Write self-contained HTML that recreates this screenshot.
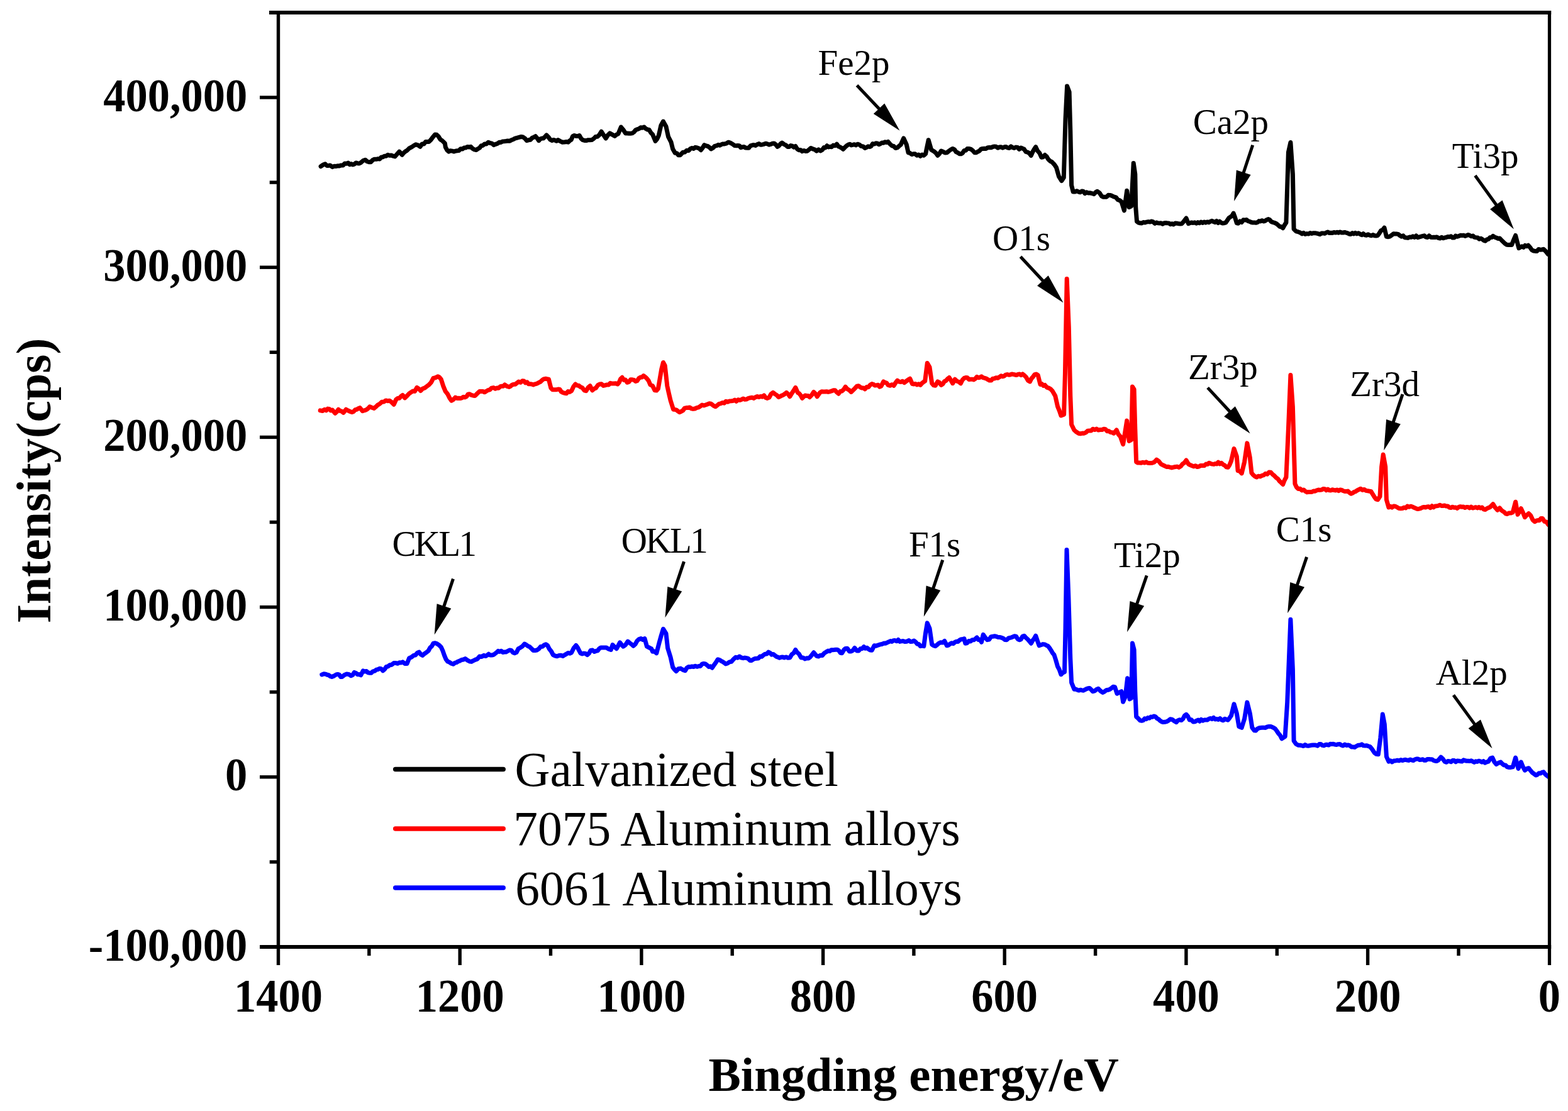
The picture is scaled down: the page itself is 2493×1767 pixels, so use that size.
<!DOCTYPE html>
<html><head><meta charset="utf-8"><title>XPS survey spectra</title>
<style>html,body{margin:0;padding:0;background:#fff;} svg{display:block;}</style>
</head><body>
<svg width="2493" height="1767" viewBox="0 0 2493 1767">
<rect width="2493" height="1767" fill="#fff"/>
<path d="M510.1,264.7 L514.4,261.7 L517.0,260.8 L519.6,263.4 L522.3,263.4 L524.9,262.9 L528.4,265.6 L531.2,264.3 L534.0,264.5 L536.8,263.8 L539.6,263.9 L542.4,262.9 L545.3,263.0 L548.2,259.9 L551.1,260.3 L553.5,259.0 L556.0,261.7 L558.4,260.6 L560.9,261.9 L563.3,261.2 L565.9,259.0 L568.5,259.7 L571.2,260.0 L573.8,258.6 L577.3,255.5 L580.8,254.2 L583.7,256.8 L586.6,257.8 L589.5,257.7 L592.4,254.7 L595.4,253.2 L598.3,253.3 L600.9,252.6 L603.5,253.0 L606.1,250.3 L608.7,249.8 L611.3,248.2 L614.0,248.3 L616.6,246.3 L619.2,247.2 L622.1,246.9 L625.0,248.2 L627.9,249.0 L631.4,245.0 L634.9,241.1 L639.3,246.3 L641.9,243.1 L644.5,240.8 L647.1,239.4 L650.6,235.9 L654.1,234.1 L657.6,231.8 L661.1,229.8 L664.6,230.9 L668.1,233.3 L671.0,229.1 L673.9,229.1 L676.8,225.4 L679.5,225.6 L682.1,225.4 L684.7,222.8 L687.3,219.3 L691.7,214.0 L694.3,214.3 L696.9,216.7 L700.0,221.7 L703.0,223.6 L707.4,228.0 L708.3,234.1 L710.9,238.8 L713.5,241.1 L716.1,239.7 L718.8,240.1 L721.4,241.1 L724.0,240.2 L726.8,239.8 L729.6,239.5 L732.3,236.8 L735.1,237.1 L737.9,235.0 L740.5,235.1 L743.1,233.5 L745.8,234.0 L748.4,233.3 L751.3,236.3 L754.2,237.9 L757.1,238.5 L759.7,236.8 L762.4,235.3 L765.0,231.8 L767.6,231.5 L770.5,228.9 L773.4,229.0 L776.3,226.3 L779.2,227.5 L782.2,228.1 L785.1,230.6 L788.0,229.3 L790.9,228.4 L793.8,226.3 L796.4,226.4 L799.0,225.0 L801.7,224.8 L804.3,224.5 L807.2,224.0 L810.1,224.3 L813.0,222.8 L815.9,221.7 L818.8,220.1 L821.7,219.3 L825.2,218.4 L828.7,217.5 L831.6,218.0 L834.5,220.1 L837.4,223.6 L840.3,222.8 L843.3,222.3 L846.2,219.3 L848.8,218.3 L851.4,216.7 L854.0,219.8 L856.7,223.6 L859.1,220.8 L861.6,220.1 L864.0,219.9 L866.5,217.5 L868.9,214.9 L871.8,217.9 L874.7,221.9 L877.6,223.6 L880.0,222.5 L882.4,223.1 L884.8,224.3 L887.2,222.6 L890.8,224.6 L894.3,226.2 L897.3,226.1 L900.3,225.5 L903.3,226.2 L905.8,223.7 L908.2,222.3 L910.6,216.6 L913.1,215.5 L915.8,216.4 L918.5,216.5 L921.2,215.5 L923.9,220.3 L926.5,222.6 L929.4,223.4 L932.2,223.6 L935.1,222.7 L937.9,222.8 L940.8,222.6 L943.8,220.6 L946.8,217.6 L949.8,217.3 L953.0,214.4 L956.1,209.2 L959.7,214.8 L963.2,220.0 L966.4,215.0 L969.5,211.9 L972.2,213.4 L974.8,214.9 L977.5,216.4 L980.2,214.1 L982.9,212.8 L987.4,202.1 L991.0,206.5 L994.5,211.9 L997.2,212.0 L999.9,212.3 L1002.6,212.3 L1005.3,211.9 L1008.0,210.0 L1010.6,206.8 L1013.3,205.6 L1016.0,204.7 L1018.7,202.8 L1021.4,203.2 L1024.1,202.1 L1026.8,204.7 L1029.4,206.0 L1032.1,206.5 L1034.8,211.1 L1037.5,213.7 L1042.0,224.4 L1044.7,221.0 L1047.3,215.5 L1050.9,199.4 L1054.5,193.1 L1059.0,201.2 L1062.5,217.3 L1067.0,226.2 L1069.7,237.0 L1073.3,243.2 L1076.0,243.6 L1078.6,246.7 L1081.3,246.8 L1085.8,242.3 L1088.8,242.0 L1091.8,239.2 L1094.8,239.6 L1097.5,236.7 L1100.2,235.4 L1102.8,236.4 L1105.5,234.3 L1108.5,235.0 L1111.4,236.0 L1114.4,238.7 L1117.1,235.1 L1119.8,230.7 L1122.5,231.8 L1125.2,232.5 L1127.9,234.3 L1130.6,237.0 L1133.6,235.3 L1136.5,232.3 L1139.5,231.6 L1142.0,230.3 L1144.5,231.2 L1147.0,229.8 L1149.5,228.9 L1152.0,228.9 L1155.0,228.2 L1158.0,226.2 L1161.0,227.1 L1164.5,229.0 L1168.1,231.6 L1170.6,231.8 L1173.0,231.5 L1175.5,231.7 L1177.9,234.7 L1180.4,233.9 L1182.9,233.4 L1185.3,235.1 L1187.8,235.2 L1190.5,235.3 L1193.2,231.9 L1195.8,231.0 L1198.5,230.5 L1201.2,231.4 L1203.9,229.8 L1206.6,228.6 L1209.3,230.2 L1212.0,229.9 L1214.6,229.3 L1217.3,228.2 L1220.0,228.9 L1222.7,230.2 L1225.4,229.4 L1228.1,228.3 L1230.8,228.0 L1233.4,229.8 L1236.1,233.4 L1238.5,231.8 L1240.9,228.9 L1243.3,227.1 L1246.3,229.4 L1249.2,230.7 L1252.2,233.4 L1254.7,233.6 L1257.2,231.6 L1259.8,232.2 L1262.3,234.2 L1264.8,232.5 L1267.4,236.8 L1270.1,238.7 L1272.8,238.5 L1275.5,240.7 L1278.2,239.4 L1280.9,240.5 L1283.7,240.2 L1286.4,237.9 L1289.2,235.5 L1292.2,236.8 L1295.3,237.8 L1298.3,240.1 L1301.4,237.9 L1304.4,240.0 L1307.5,238.2 L1309.9,234.6 L1312.4,235.0 L1314.8,231.8 L1317.3,233.9 L1319.7,233.3 L1322.2,233.7 L1324.9,231.1 L1327.7,231.8 L1330.4,229.1 L1332.9,232.7 L1335.5,233.9 L1338.0,235.3 L1340.5,237.3 L1343.2,234.5 L1346.0,231.9 L1348.7,230.0 L1351.1,229.2 L1353.5,230.9 L1355.9,230.3 L1358.3,229.7 L1360.7,230.9 L1363.5,229.2 L1366.2,230.0 L1369.2,232.4 L1372.3,233.0 L1375.3,235.5 L1377.8,234.4 L1380.2,232.8 L1382.7,233.5 L1385.1,232.5 L1387.5,228.6 L1390.0,229.1 L1392.5,227.8 L1394.9,227.9 L1397.3,229.7 L1399.8,228.7 L1402.2,227.0 L1404.7,227.2 L1407.1,225.7 L1409.6,226.6 L1412.0,225.4 L1415.0,229.0 L1418.0,231.8 L1420.9,232.5 L1423.9,235.5 L1426.7,234.9 L1429.4,232.4 L1432.2,230.0 L1436.7,219.9 L1441.3,230.0 L1444.1,242.8 L1446.8,243.4 L1449.6,245.6 L1452.3,244.7 L1455.0,244.8 L1457.8,247.2 L1460.5,246.1 L1463.3,248.3 L1466.1,246.0 L1468.8,247.2 L1471.6,244.7 L1476.2,222.7 L1480.7,238.2 L1485.3,241.0 L1488.0,243.3 L1490.8,247.4 L1493.5,244.6 L1496.3,240.1 L1499.4,241.3 L1502.4,243.0 L1505.5,242.8 L1508.6,240.2 L1511.6,238.0 L1514.7,236.4 L1517.5,237.8 L1520.2,241.7 L1523.0,243.0 L1525.7,244.7 L1528.1,244.8 L1530.6,243.2 L1533.0,239.4 L1535.4,239.3 L1537.9,236.5 L1540.3,236.4 L1543.4,237.1 L1546.4,239.3 L1549.5,242.8 L1552.1,242.7 L1554.6,241.2 L1557.2,240.0 L1559.7,237.2 L1562.3,236.4 L1565.0,236.3 L1567.8,236.4 L1570.5,234.7 L1573.3,234.6 L1575.9,234.7 L1578.5,233.5 L1581.1,232.9 L1583.8,233.3 L1586.4,235.2 L1589.0,234.0 L1591.6,233.7 L1594.2,235.2 L1596.9,233.8 L1599.5,233.4 L1602.1,235.1 L1604.7,235.4 L1607.4,232.9 L1610.0,234.6 L1612.6,235.5 L1615.2,234.1 L1617.8,234.5 L1620.5,237.4 L1623.1,235.1 L1625.7,236.1 L1628.3,237.3 L1631.0,241.4 L1633.8,242.1 L1636.5,243.6 L1639.3,247.4 L1641.8,241.8 L1644.2,237.4 L1646.7,233.7 L1649.7,240.0 L1652.8,243.4 L1655.8,250.2 L1658.5,249.7 L1661.3,246.5 L1664.0,248.9 L1666.8,253.5 L1669.5,256.1 L1672.3,257.5 L1674.7,259.9 L1677.2,262.8 L1679.6,266.7 L1683.5,280.6 L1687.9,287.6 L1691.3,282.4 L1694.0,189.8 L1696.6,137.0 L1700.1,146.2 L1701.8,207.3 L1703.6,294.6 L1706.2,305.1 L1709.1,305.0 L1712.0,303.8 L1714.9,305.1 L1717.4,305.8 L1719.9,304.1 L1722.4,304.3 L1724.9,307.6 L1727.4,305.7 L1729.9,306.9 L1732.4,306.8 L1735.9,307.5 L1739.4,308.6 L1742.0,305.8 L1744.6,304.2 L1748.1,306.8 L1751.6,312.1 L1754.2,313.3 L1756.8,313.3 L1759.4,313.2 L1762.1,310.3 L1764.7,310.4 L1767.3,311.2 L1770.8,312.9 L1774.3,313.8 L1777.2,317.7 L1780.1,318.6 L1783.0,320.8 L1787.4,334.8 L1791.7,303.3 L1795.2,329.5 L1798.7,327.8 L1802.2,259.5 L1804.8,277.1 L1805.7,329.5 L1807.5,352.2 L1810.1,354.1 L1812.7,354.8 L1815.3,355.0 L1817.9,353.5 L1820.6,354.1 L1823.2,353.1 L1825.8,352.6 L1828.4,353.1 L1830.9,352.0 L1833.4,352.9 L1835.9,355.4 L1838.4,353.9 L1840.9,354.8 L1843.4,355.0 L1845.9,354.8 L1848.4,356.3 L1850.9,354.7 L1853.4,354.6 L1855.8,354.8 L1858.3,354.9 L1860.8,356.7 L1863.3,355.7 L1865.9,357.0 L1868.5,355.1 L1871.2,355.2 L1873.8,355.8 L1876.4,356.0 L1879.0,355.7 L1882.5,351.7 L1886.0,347.0 L1889.5,355.7 L1892.0,354.8 L1894.5,353.9 L1897.0,354.5 L1899.5,353.8 L1902.0,355.2 L1904.5,353.6 L1907.0,354.8 L1909.5,353.1 L1912.0,354.5 L1914.5,353.0 L1916.9,354.2 L1919.4,352.9 L1921.9,353.7 L1924.4,352.2 L1926.9,351.3 L1929.3,352.5 L1931.8,353.7 L1934.2,351.5 L1936.7,354.5 L1939.1,352.2 L1941.6,354.3 L1944.0,355.1 L1946.5,354.8 L1948.9,353.9 L1951.3,350.4 L1953.8,346.7 L1956.2,345.1 L1958.7,343.4 L1961.1,339.1 L1963.7,346.3 L1966.3,354.8 L1968.9,355.2 L1971.5,351.9 L1974.2,353.5 L1976.8,349.8 L1979.4,349.9 L1982.0,349.6 L1984.5,351.7 L1986.9,352.3 L1989.4,353.5 L1991.8,354.1 L1994.3,353.9 L1996.7,354.3 L1999.2,353.6 L2001.6,351.6 L2004.1,352.0 L2006.5,350.7 L2008.9,352.0 L2011.4,351.4 L2013.8,349.7 L2016.3,348.6 L2018.7,349.6 L2021.3,352.6 L2024.0,353.6 L2026.6,354.3 L2029.2,355.7 L2031.8,357.6 L2034.5,360.3 L2037.1,360.8 L2039.7,362.7 L2042.3,358.0 L2044.9,354.0 L2048.4,242.2 L2051.9,226.5 L2055.4,277.1 L2057.1,364.4 L2060.6,367.9 L2063.7,368.7 L2066.9,369.8 L2070.0,371.9 L2072.6,370.4 L2075.2,372.4 L2077.9,371.6 L2080.5,372.1 L2083.1,370.5 L2085.7,371.4 L2088.3,370.7 L2091.0,370.7 L2093.6,371.1 L2096.2,371.9 L2098.7,372.7 L2101.1,371.1 L2103.6,370.9 L2106.1,371.4 L2108.6,370.0 L2111.1,369.0 L2113.5,370.5 L2116.0,370.2 L2118.5,370.4 L2120.9,369.5 L2123.4,370.1 L2125.9,369.3 L2128.3,370.2 L2130.7,368.9 L2133.1,369.9 L2135.6,370.0 L2138.0,369.4 L2140.4,370.2 L2142.8,370.9 L2145.2,372.2 L2147.6,372.4 L2150.1,370.6 L2152.5,372.0 L2154.9,370.3 L2157.3,371.9 L2159.9,370.7 L2162.4,372.3 L2165.0,373.7 L2167.5,371.6 L2170.1,373.8 L2172.6,374.3 L2175.2,372.7 L2177.7,374.1 L2180.3,374.8 L2182.8,373.5 L2185.4,374.7 L2187.9,375.1 L2190.5,374.5 L2193.1,370.9 L2195.7,366.7 L2198.3,365.6 L2201.0,362.3 L2204.4,376.3 L2207.2,376.7 L2210.0,376.0 L2212.8,373.9 L2215.6,371.7 L2218.4,371.9 L2220.9,372.0 L2223.4,372.7 L2225.9,374.7 L2228.4,376.2 L2230.9,374.8 L2233.4,377.7 L2235.9,378.0 L2238.5,378.4 L2241.1,377.0 L2243.8,377.3 L2246.4,375.9 L2249.0,377.4 L2251.6,375.0 L2254.2,377.7 L2256.9,376.9 L2259.5,376.1 L2262.1,375.4 L2264.6,374.8 L2267.1,377.1 L2269.6,377.4 L2272.1,375.0 L2274.6,377.2 L2277.1,377.6 L2279.6,377.2 L2282.0,377.5 L2284.5,376.9 L2287.0,378.6 L2289.5,379.0 L2292.0,377.3 L2294.5,378.8 L2297.0,378.0 L2299.5,377.5 L2302.0,376.4 L2304.5,376.7 L2307.0,375.8 L2309.5,378.1 L2312.0,378.0 L2314.4,375.0 L2316.9,376.3 L2319.4,375.5 L2321.9,374.3 L2324.4,374.6 L2326.9,374.2 L2329.4,375.5 L2331.9,374.5 L2334.4,373.4 L2336.9,374.5 L2339.4,375.8 L2341.9,375.0 L2344.4,377.4 L2346.9,377.8 L2349.4,378.0 L2351.8,380.1 L2354.3,379.2 L2356.7,380.5 L2359.2,382.4 L2361.6,383.3 L2364.0,381.0 L2366.5,380.4 L2368.9,377.8 L2371.4,377.6 L2373.8,375.4 L2376.4,377.2 L2379.1,378.1 L2381.7,379.5 L2384.3,378.9 L2387.2,381.9 L2390.1,384.7 L2393.0,387.6 L2395.6,389.2 L2398.2,389.4 L2400.9,389.2 L2403.5,389.4 L2406.6,381.6 L2409.6,374.5 L2412.2,384.6 L2414.8,394.6 L2417.3,393.2 L2419.8,391.9 L2422.2,393.4 L2424.7,390.4 L2427.2,391.7 L2429.7,390.2 L2432.6,393.3 L2435.5,397.6 L2438.4,399.0 L2441.0,399.4 L2443.6,399.6 L2446.2,396.5 L2448.9,397.2 L2451.5,397.0 L2454.1,396.3 L2457.6,399.6 L2461.1,404.2" fill="none" stroke="#000" stroke-width="7" stroke-linejoin="round" stroke-linecap="round"/>
<path d="M509.2,652.9 L512.7,653.5 L516.2,651.2 L518.6,652.8 L521.1,650.1 L523.5,650.4 L526.0,653.0 L528.4,652.1 L532.8,657.3 L535.4,655.0 L538.0,651.2 L540.6,653.5 L543.3,654.1 L545.9,656.4 L550.2,651.2 L553.4,653.0 L556.6,654.5 L559.8,655.6 L562.3,654.5 L564.7,651.7 L567.2,651.2 L569.6,649.7 L572.1,648.6 L576.4,653.8 L579.2,652.8 L582.1,651.9 L584.9,650.0 L587.8,646.8 L591.3,648.2 L594.8,649.4 L597.7,646.9 L600.6,644.1 L603.5,642.5 L607.0,639.3 L610.5,639.0 L613.4,636.9 L616.3,637.7 L619.2,637.2 L622.7,639.7 L626.2,643.3 L629.7,635.5 L632.3,633.4 L635.0,633.3 L637.6,630.3 L640.2,628.5 L643.6,632.9 L647.1,629.6 L650.6,625.9 L653.5,623.9 L656.5,622.0 L659.4,622.4 L662.9,616.3 L665.9,618.3 L668.9,621.5 L672.0,618.1 L675.1,617.1 L678.6,614.5 L682.1,611.9 L685.5,608.2 L689.0,601.4 L692.5,600.7 L696.0,598.8 L698.6,600.0 L701.3,603.2 L704.8,614.1 L708.2,622.4 L711.7,626.7 L714.8,632.9 L717.8,637.2 L720.9,635.4 L724.0,632.0 L726.6,633.5 L729.2,633.3 L731.8,633.6 L734.4,632.9 L736.9,631.2 L739.3,632.0 L741.8,630.7 L744.2,626.9 L746.7,626.7 L749.6,628.4 L752.5,629.2 L755.4,629.4 L758.9,625.8 L762.4,622.4 L765.0,622.5 L767.6,622.4 L770.3,623.8 L772.9,622.4 L775.8,620.6 L778.7,619.9 L781.6,617.1 L784.5,616.6 L787.4,618.3 L790.3,617.1 L792.7,617.3 L795.2,614.9 L797.6,614.2 L800.1,614.3 L802.5,611.9 L806.0,614.4 L809.5,615.4 L811.9,614.1 L814.4,612.1 L816.8,611.2 L819.3,611.2 L821.7,609.3 L824.6,607.1 L827.6,608.3 L830.5,605.8 L833.0,605.9 L835.5,608.9 L838.0,607.8 L840.4,610.7 L842.9,610.8 L845.4,611.0 L847.9,611.9 L850.8,610.8 L853.8,610.1 L856.7,608.4 L859.3,607.2 L861.9,604.7 L864.5,602.9 L867.1,602.3 L869.8,602.8 L872.4,603.2 L875.9,617.1 L878.5,619.8 L881.1,619.8 L884.2,619.8 L887.2,619.1 L889.9,619.3 L892.5,623.2 L895.2,624.5 L897.9,625.3 L900.6,625.7 L903.2,622.5 L905.9,623.4 L908.6,621.7 L911.8,614.9 L914.9,611.0 L917.6,613.0 L920.2,613.3 L922.9,615.5 L925.9,616.7 L928.9,620.8 L931.9,621.7 L935.0,616.4 L938.2,613.7 L941.7,620.8 L944.6,618.4 L947.5,617.0 L950.5,612.6 L953.4,611.0 L956.4,610.7 L959.3,613.4 L962.3,612.8 L965.0,611.9 L967.7,612.1 L970.4,609.3 L973.1,610.1 L976.1,610.0 L979.0,609.7 L982.0,611.0 L984.4,608.0 L986.8,602.5 L989.2,600.3 L991.9,604.4 L994.5,604.1 L997.2,608.3 L999.9,607.5 L1002.6,603.8 L1005.3,603.8 L1008.0,604.4 L1010.6,606.5 L1013.1,605.7 L1015.6,601.8 L1018.2,600.1 L1020.7,600.0 L1023.2,597.6 L1025.8,599.5 L1028.5,602.1 L1031.2,605.5 L1033.9,611.9 L1037.5,613.7 L1041.1,620.8 L1043.8,621.1 L1046.4,618.2 L1049.1,602.5 L1051.8,586.8 L1054.5,576.5 L1057.2,581.5 L1060.8,613.7 L1063.4,625.4 L1066.1,637.0 L1070.6,651.3 L1073.0,651.3 L1075.5,652.0 L1078.0,654.1 L1080.4,655.7 L1083.1,654.3 L1085.8,652.9 L1088.5,649.1 L1091.2,648.6 L1093.9,648.5 L1096.6,648.0 L1099.2,649.8 L1101.9,650.4 L1104.8,650.0 L1107.6,648.6 L1110.5,647.9 L1113.3,646.2 L1116.2,644.1 L1119.1,644.9 L1122.0,644.0 L1124.8,642.9 L1127.7,641.8 L1130.6,642.3 L1134.2,645.1 L1137.7,646.8 L1140.4,644.6 L1143.1,642.4 L1145.7,641.9 L1148.4,640.5 L1151.3,641.2 L1154.2,638.2 L1157.0,639.2 L1159.9,638.0 L1162.8,637.8 L1165.5,637.5 L1168.2,636.0 L1170.8,638.3 L1173.5,635.7 L1176.2,636.5 L1178.8,635.6 L1181.5,634.0 L1184.2,635.2 L1187.1,635.0 L1190.0,633.3 L1192.8,632.7 L1195.7,632.3 L1198.6,633.4 L1201.3,631.6 L1204.0,630.6 L1206.7,631.6 L1209.3,630.4 L1212.0,631.2 L1214.7,628.9 L1217.3,632.5 L1220.0,633.4 L1223.0,632.0 L1226.0,626.5 L1229.0,624.4 L1232.0,626.6 L1234.9,628.4 L1237.9,631.6 L1240.4,630.5 L1242.9,629.1 L1245.4,628.2 L1247.9,626.5 L1250.4,624.4 L1253.1,626.8 L1255.8,630.7 L1258.8,625.7 L1261.8,621.3 L1264.8,616.4 L1268.3,624.4 L1270.7,625.8 L1273.1,628.9 L1275.5,633.4 L1280.0,628.9 L1282.4,629.5 L1284.9,629.5 L1287.3,631.7 L1290.5,628.3 L1293.7,623.4 L1296.5,626.2 L1299.2,630.7 L1303.8,624.3 L1306.4,622.8 L1309.0,622.9 L1311.5,622.9 L1314.1,622.7 L1316.7,623.4 L1319.5,622.8 L1322.2,621.9 L1325.0,620.8 L1327.7,620.7 L1330.5,623.9 L1333.2,626.2 L1336.0,622.5 L1338.7,622.0 L1341.5,619.4 L1344.2,615.2 L1347.2,618.7 L1350.3,620.5 L1353.3,623.4 L1356.4,620.4 L1359.4,617.5 L1362.5,614.2 L1365.1,613.7 L1367.6,615.8 L1370.2,617.0 L1372.7,616.9 L1375.3,618.8 L1378.0,615.5 L1380.8,615.7 L1383.5,612.2 L1386.3,610.6 L1388.8,611.3 L1391.2,613.1 L1393.7,612.8 L1396.1,612.3 L1398.5,615.1 L1401.0,614.2 L1404.7,606.9 L1407.1,608.3 L1409.6,609.0 L1412.0,612.4 L1415.1,613.3 L1418.1,611.7 L1421.2,613.3 L1424.0,608.6 L1426.7,605.1 L1429.5,607.1 L1432.2,607.5 L1435.0,606.3 L1437.7,608.7 L1440.7,606.4 L1443.8,604.1 L1446.8,602.3 L1450.5,610.6 L1453.1,610.9 L1455.6,610.4 L1458.2,612.0 L1460.7,610.7 L1463.3,612.4 L1465.8,609.6 L1468.2,607.7 L1470.7,606.0 L1474.3,577.5 L1478.0,584.0 L1481.7,609.7 L1484.5,612.9 L1487.2,613.3 L1490.8,606.9 L1493.5,608.3 L1496.3,612.4 L1498.9,610.8 L1501.5,606.7 L1504.0,605.5 L1506.6,602.5 L1509.2,600.5 L1512.0,605.0 L1514.7,609.7 L1518.3,603.2 L1521.4,606.2 L1524.4,607.2 L1527.5,609.7 L1530.2,604.3 L1533.0,601.4 L1535.6,600.5 L1538.1,600.8 L1540.7,603.6 L1543.2,603.3 L1545.8,603.2 L1548.2,603.9 L1550.7,602.3 L1553.2,599.4 L1555.6,600.7 L1558.0,600.3 L1560.5,598.7 L1563.1,600.7 L1565.6,601.3 L1568.2,602.1 L1570.7,603.7 L1573.3,605.1 L1575.9,605.0 L1578.5,602.2 L1581.1,602.0 L1583.8,600.8 L1586.4,601.3 L1589.0,599.7 L1591.6,597.7 L1594.0,598.8 L1596.5,598.2 L1598.9,596.1 L1601.4,595.6 L1603.8,596.2 L1606.3,595.9 L1608.8,595.0 L1611.2,595.4 L1613.7,596.0 L1616.1,596.6 L1618.5,595.4 L1621.0,595.0 L1623.4,596.6 L1625.9,594.9 L1628.3,596.8 L1631.4,599.7 L1634.4,605.1 L1637.5,606.9 L1639.9,602.1 L1642.4,599.3 L1644.8,595.9 L1647.5,595.0 L1650.3,596.8 L1654.0,611.5 L1656.4,610.5 L1658.9,613.4 L1661.3,612.4 L1664.4,616.1 L1667.4,617.1 L1670.5,618.8 L1672.9,621.3 L1675.4,625.5 L1677.8,629.8 L1681.5,646.3 L1684.2,652.8 L1687.0,661.0 L1691.6,659.2 L1693.4,595.0 L1696.2,443.5 L1699.3,520.0 L1701.8,629.8 L1703.6,675.2 L1707.9,684.0 L1711.4,687.1 L1714.9,689.2 L1717.8,689.8 L1720.7,689.0 L1723.6,689.2 L1726.4,687.9 L1729.2,685.2 L1732.0,685.1 L1734.8,685.0 L1737.6,682.2 L1740.5,683.6 L1743.4,682.1 L1746.3,684.0 L1749.2,683.5 L1752.2,683.5 L1755.1,682.2 L1757.7,682.6 L1760.3,685.8 L1762.9,685.6 L1765.6,687.5 L1768.2,687.7 L1770.8,689.2 L1775.2,684.0 L1778.2,690.8 L1781.3,694.4 L1785.6,706.7 L1788.7,687.9 L1791.7,669.1 L1795.2,701.4 L1798.7,699.7 L1800.5,615.0 L1803.1,619.4 L1804.8,682.2 L1806.6,734.6 L1809.2,736.1 L1811.8,736.0 L1814.4,736.3 L1817.0,735.2 L1819.7,736.1 L1822.3,734.8 L1824.9,736.3 L1828.4,736.6 L1831.9,736.3 L1835.4,734.9 L1838.9,731.1 L1842.4,733.6 L1845.9,738.1 L1848.8,739.6 L1851.7,741.0 L1854.6,742.5 L1857.4,742.2 L1860.2,743.2 L1863.0,743.9 L1865.8,743.2 L1868.6,742.5 L1871.5,742.1 L1874.4,743.4 L1877.3,741.6 L1880.2,737.9 L1883.1,736.0 L1886.0,732.0 L1889.5,738.1 L1892.3,739.5 L1895.1,740.7 L1897.9,741.9 L1900.7,740.7 L1903.5,742.5 L1906.3,742.0 L1909.1,740.4 L1911.9,740.4 L1914.7,740.5 L1917.5,738.1 L1919.9,738.4 L1922.4,736.2 L1924.8,737.4 L1927.3,738.1 L1929.7,738.4 L1932.1,737.5 L1934.6,737.9 L1937.0,735.1 L1939.5,737.9 L1941.9,736.3 L1944.5,738.8 L1947.2,740.1 L1949.8,742.8 L1952.4,743.3 L1955.0,739.3 L1957.6,732.9 L1962.0,713.6 L1966.3,725.9 L1968.1,748.6 L1971.2,749.5 L1974.2,752.9 L1978.6,734.6 L1982.9,704.9 L1987.3,727.6 L1989.9,752.1 L1992.5,755.4 L1995.2,757.6 L1997.8,759.0 L2000.7,757.2 L2003.6,758.0 L2006.5,756.4 L2009.3,755.6 L2012.1,753.3 L2014.9,754.3 L2017.7,751.1 L2020.5,751.2 L2023.4,754.5 L2026.3,756.8 L2029.2,759.9 L2031.8,761.7 L2034.5,765.4 L2037.1,767.7 L2039.7,770.4 L2042.3,763.8 L2044.9,759.0 L2048.4,682.2 L2051.9,596.5 L2055.4,647.3 L2058.9,769.5 L2061.5,774.9 L2064.1,777.4 L2067.1,777.3 L2070.0,779.9 L2072.6,779.0 L2075.2,781.2 L2077.9,782.9 L2080.5,782.5 L2083.1,782.6 L2085.7,782.4 L2088.3,781.1 L2090.9,781.3 L2093.6,779.8 L2096.2,779.1 L2098.8,779.4 L2101.4,779.0 L2103.8,777.5 L2106.3,777.7 L2108.8,779.8 L2111.2,778.0 L2113.7,779.8 L2116.1,779.9 L2118.6,778.7 L2121.0,779.6 L2123.5,779.9 L2125.9,779.0 L2128.3,780.7 L2130.8,778.9 L2133.2,779.5 L2135.7,780.7 L2138.1,781.5 L2140.5,781.5 L2143.0,781.1 L2145.4,783.4 L2147.9,785.3 L2150.3,784.3 L2152.9,782.5 L2155.5,781.6 L2158.2,779.7 L2160.8,778.5 L2163.4,777.3 L2166.2,779.4 L2169.1,778.4 L2172.0,780.4 L2174.8,780.8 L2177.4,781.2 L2180.0,781.7 L2182.6,786.2 L2185.2,790.4 L2187.8,793.9 L2190.5,794.8 L2194.0,789.5 L2196.6,742.4 L2199.2,723.0 L2202.7,742.4 L2204.4,794.8 L2207.9,807.0 L2210.5,805.2 L2213.2,807.1 L2215.8,805.0 L2218.4,805.2 L2221.3,806.8 L2224.2,808.5 L2227.1,808.7 L2229.7,808.6 L2232.4,807.2 L2235.0,808.0 L2237.6,805.1 L2240.3,806.2 L2242.9,805.2 L2245.8,806.0 L2248.7,807.6 L2251.6,808.7 L2254.1,809.6 L2256.6,809.1 L2259.1,808.3 L2261.6,807.0 L2264.1,806.5 L2266.6,807.0 L2269.1,806.0 L2271.6,805.8 L2274.2,807.7 L2276.7,804.8 L2279.2,806.8 L2281.7,805.1 L2284.2,804.8 L2286.7,804.4 L2289.2,803.3 L2291.7,804.4 L2294.2,804.6 L2296.7,803.9 L2299.3,805.1 L2301.8,804.9 L2304.3,807.1 L2306.8,807.5 L2309.4,806.2 L2311.9,807.2 L2314.4,807.0 L2316.9,808.4 L2319.3,806.4 L2321.8,805.7 L2324.3,806.2 L2326.7,806.0 L2329.2,807.6 L2331.7,806.6 L2334.1,806.5 L2336.6,807.9 L2339.0,806.1 L2341.5,808.0 L2344.0,807.4 L2346.4,806.7 L2348.9,808.0 L2351.4,806.5 L2353.8,808.2 L2356.3,807.0 L2358.9,810.1 L2361.6,810.5 L2364.0,808.7 L2366.5,807.6 L2368.9,806.7 L2371.4,804.2 L2373.8,801.7 L2377.3,807.3 L2380.8,811.3 L2384.3,807.9 L2386.7,811.0 L2389.2,813.1 L2391.6,814.5 L2394.1,817.1 L2396.5,817.5 L2399.4,815.9 L2402.3,816.1 L2405.2,814.8 L2409.6,798.2 L2413.1,818.3 L2415.7,814.0 L2418.3,808.7 L2421.4,815.3 L2424.4,822.7 L2427.4,819.3 L2430.5,816.6 L2433.7,819.9 L2436.9,826.8 L2440.1,829.7 L2442.6,828.2 L2445.0,827.5 L2447.5,827.8 L2449.9,824.5 L2452.4,824.4 L2455.6,829.4 L2458.8,830.2 L2462.0,834.9" fill="none" stroke="#ff0000" stroke-width="7" stroke-linejoin="round" stroke-linecap="round"/>
<path d="M511.8,1072.9 L514.9,1071.7 L517.9,1072.1 L520.3,1073.3 L522.7,1073.8 L525.1,1075.7 L527.5,1076.4 L531.0,1075.1 L534.5,1072.9 L536.9,1072.4 L539.3,1073.1 L541.7,1076.6 L544.1,1076.4 L547.6,1073.5 L551.1,1072.1 L554.6,1072.5 L558.1,1074.7 L560.7,1073.6 L563.3,1069.4 L565.9,1070.4 L568.5,1072.7 L571.2,1072.6 L573.8,1073.8 L577.3,1066.8 L579.9,1068.1 L582.5,1067.4 L585.2,1069.9 L587.8,1070.3 L590.4,1070.2 L593.0,1067.8 L595.7,1067.2 L598.3,1065.1 L600.9,1064.7 L603.5,1063.3 L606.1,1063.7 L608.7,1066.8 L611.4,1064.6 L614.0,1060.7 L616.9,1059.8 L619.8,1057.7 L622.7,1057.2 L626.2,1054.4 L629.7,1054.6 L632.3,1055.3 L635.0,1053.7 L637.6,1054.0 L640.2,1052.9 L643.7,1055.4 L647.1,1055.5 L650.6,1046.7 L654.1,1045.2 L657.6,1042.4 L660.5,1042.0 L663.4,1038.5 L666.3,1037.1 L669.0,1040.7 L671.6,1042.4 L675.1,1039.6 L678.6,1037.1 L681.2,1035.0 L683.8,1030.2 L686.4,1027.9 L689.0,1023.2 L691.9,1022.8 L694.9,1023.8 L697.8,1025.8 L701.3,1029.3 L703.9,1034.9 L706.5,1042.4 L709.1,1048.7 L711.7,1052.0 L714.6,1053.2 L717.6,1055.3 L720.5,1056.3 L723.1,1054.4 L725.7,1053.7 L728.3,1052.0 L730.9,1051.1 L733.8,1049.5 L736.8,1049.0 L739.7,1047.6 L743.2,1050.1 L746.7,1052.0 L749.6,1052.4 L752.5,1050.8 L755.4,1049.4 L758.9,1048.1 L762.4,1044.1 L765.9,1044.4 L769.4,1042.4 L771.9,1043.6 L774.4,1042.2 L776.9,1040.2 L779.3,1042.1 L781.8,1042.0 L784.3,1041.5 L786.8,1039.8 L789.5,1037.8 L792.1,1035.4 L794.5,1036.4 L797.0,1035.2 L799.4,1037.5 L801.9,1037.0 L804.3,1037.1 L807.2,1035.5 L810.1,1034.0 L813.0,1034.5 L815.6,1037.8 L818.2,1038.9 L821.1,1037.6 L824.1,1031.8 L827.0,1030.2 L830.5,1028.1 L834.0,1024.0 L836.6,1025.5 L839.2,1027.5 L842.1,1028.7 L845.0,1031.5 L847.9,1034.5 L850.8,1034.5 L853.8,1034.0 L856.7,1031.9 L859.6,1028.4 L862.5,1028.2 L865.4,1025.8 L868.0,1024.8 L870.6,1026.7 L873.5,1032.3 L876.5,1036.0 L879.4,1041.5 L882.6,1043.1 L885.7,1043.7 L888.9,1042.5 L891.9,1042.2 L894.9,1043.5 L897.9,1041.6 L900.6,1040.1 L903.2,1038.4 L905.9,1039.2 L908.6,1038.0 L912.2,1030.7 L915.8,1026.4 L918.2,1029.6 L920.6,1034.4 L923.0,1038.9 L925.7,1039.9 L928.4,1039.1 L931.0,1039.5 L933.7,1041.6 L936.4,1039.2 L939.1,1034.4 L942.1,1034.1 L945.0,1036.5 L948.0,1035.3 L950.4,1034.8 L952.8,1031.4 L955.2,1030.0 L958.2,1029.9 L961.1,1030.1 L964.1,1030.0 L967.7,1032.2 L971.3,1033.5 L974.0,1025.5 L977.1,1028.9 L980.2,1031.7 L982.9,1027.0 L985.6,1021.9 L988.3,1025.4 L991.0,1028.2 L994.5,1025.6 L998.1,1020.1 L1001.1,1022.5 L1004.1,1024.7 L1007.1,1027.3 L1010.1,1024.4 L1013.0,1019.3 L1016.0,1016.5 L1019.0,1015.6 L1022.0,1017.4 L1025.0,1015.6 L1028.5,1028.2 L1030.9,1029.4 L1033.3,1030.7 L1035.7,1031.7 L1037.5,1036.2 L1040.7,1036.0 L1043.8,1038.9 L1048.2,1021.9 L1051.3,1010.8 L1054.5,1000.3 L1059.0,1007.6 L1061.6,1030.8 L1066.1,1045.2 L1069.7,1061.3 L1072.4,1064.7 L1075.1,1067.5 L1078.7,1063.8 L1082.2,1063.1 L1084.6,1064.6 L1087.0,1065.9 L1089.4,1066.6 L1092.1,1062.1 L1094.8,1060.4 L1097.5,1060.7 L1100.2,1060.0 L1102.8,1060.5 L1105.5,1059.3 L1108.2,1060.3 L1110.9,1059.5 L1113.6,1059.4 L1116.2,1056.2 L1118.9,1055.4 L1121.6,1055.9 L1124.3,1058.0 L1126.9,1060.5 L1129.6,1059.8 L1132.3,1062.2 L1135.3,1057.6 L1138.3,1053.5 L1141.3,1048.7 L1143.8,1049.6 L1146.3,1051.1 L1148.8,1052.4 L1151.3,1054.0 L1153.8,1055.9 L1156.8,1055.0 L1159.8,1052.9 L1162.8,1052.3 L1166.3,1048.4 L1169.9,1045.2 L1172.8,1046.3 L1175.6,1044.0 L1178.5,1046.0 L1181.3,1046.7 L1184.2,1046.1 L1186.9,1046.6 L1189.6,1047.4 L1192.3,1050.4 L1195.0,1050.5 L1197.7,1048.6 L1200.4,1047.4 L1203.0,1047.2 L1205.7,1047.0 L1208.4,1044.1 L1211.1,1044.3 L1213.8,1041.9 L1216.4,1040.2 L1219.1,1040.0 L1221.8,1037.1 L1224.3,1038.3 L1226.8,1041.1 L1229.3,1040.4 L1231.8,1042.3 L1234.3,1044.3 L1236.8,1045.1 L1239.3,1046.3 L1241.9,1045.2 L1244.4,1044.9 L1246.9,1046.1 L1249.9,1044.9 L1252.8,1046.2 L1255.8,1046.1 L1258.8,1040.9 L1261.8,1038.7 L1264.8,1033.5 L1267.4,1037.7 L1270.1,1039.8 L1273.7,1046.1 L1276.8,1046.0 L1280.0,1047.9 L1282.8,1046.7 L1285.5,1047.0 L1288.2,1044.9 L1291.0,1041.3 L1293.7,1037.8 L1298.3,1043.3 L1301.4,1044.0 L1304.4,1042.2 L1307.5,1042.4 L1310.6,1038.8 L1313.6,1036.9 L1316.7,1035.1 L1319.1,1035.7 L1321.6,1033.7 L1324.0,1033.7 L1326.4,1033.6 L1328.9,1033.3 L1331.3,1033.2 L1333.8,1034.7 L1336.2,1038.2 L1338.7,1038.7 L1341.5,1033.9 L1344.2,1031.4 L1347.2,1031.3 L1350.3,1035.9 L1353.3,1036.0 L1356.0,1034.5 L1358.8,1030.5 L1362.5,1035.1 L1365.2,1035.1 L1368.0,1031.7 L1370.8,1031.7 L1373.5,1028.7 L1375.9,1031.3 L1378.4,1030.2 L1380.8,1032.3 L1383.5,1034.0 L1386.3,1034.2 L1390.0,1026.8 L1393.1,1027.3 L1396.1,1026.1 L1399.2,1025.0 L1402.2,1024.5 L1405.3,1023.1 L1408.3,1023.2 L1410.8,1021.9 L1413.2,1020.8 L1415.7,1019.5 L1418.1,1020.4 L1420.5,1018.7 L1423.0,1018.6 L1425.6,1019.8 L1428.1,1017.5 L1430.7,1020.4 L1433.2,1019.9 L1435.8,1019.5 L1438.9,1020.6 L1441.9,1020.2 L1445.0,1018.6 L1447.8,1020.6 L1450.5,1020.2 L1453.2,1019.1 L1456.0,1021.3 L1458.4,1024.2 L1460.9,1024.5 L1463.3,1027.7 L1466.0,1027.1 L1468.8,1027.7 L1471.6,1006.7 L1474.3,990.9 L1478.0,999.3 L1481.7,1025.0 L1484.5,1026.9 L1487.2,1027.7 L1490.0,1025.5 L1492.7,1023.2 L1495.7,1021.7 L1498.8,1022.1 L1501.8,1019.5 L1505.5,1026.8 L1508.1,1026.1 L1510.6,1024.1 L1513.2,1022.7 L1515.7,1023.6 L1518.3,1021.3 L1520.8,1020.3 L1523.2,1020.4 L1525.7,1018.1 L1528.1,1016.7 L1530.5,1016.8 L1533.0,1015.8 L1534.8,1023.2 L1537.5,1022.8 L1540.3,1019.4 L1543.0,1020.0 L1545.8,1017.7 L1548.3,1017.8 L1550.7,1016.2 L1553.2,1014.0 L1555.6,1017.5 L1558.1,1017.3 L1560.5,1021.3 L1563.2,1009.4 L1566.5,1014.0 L1569.7,1017.7 L1572.7,1017.0 L1575.8,1012.6 L1578.8,1012.2 L1581.4,1011.8 L1583.9,1012.2 L1586.5,1013.4 L1589.0,1013.4 L1591.6,1014.0 L1594.7,1015.1 L1597.7,1017.4 L1600.8,1017.7 L1603.2,1015.2 L1605.7,1014.4 L1608.2,1013.8 L1610.6,1012.8 L1613.0,1011.7 L1615.5,1012.2 L1618.2,1016.5 L1621.0,1017.7 L1623.4,1016.7 L1625.9,1012.0 L1628.3,1011.2 L1631.0,1014.2 L1633.8,1016.6 L1636.5,1019.6 L1639.3,1023.2 L1641.8,1018.7 L1644.2,1015.7 L1646.7,1011.2 L1649.5,1019.3 L1652.2,1026.8 L1655.2,1025.8 L1658.3,1024.6 L1661.3,1025.0 L1663.7,1026.3 L1666.2,1027.5 L1668.6,1030.5 L1671.1,1034.3 L1673.5,1038.5 L1676.0,1041.5 L1678.8,1050.3 L1681.5,1059.8 L1684.2,1064.9 L1687.0,1072.7 L1689.8,1069.8 L1692.5,1069.0 L1694.0,1000.0 L1696.0,874.5 L1698.9,950.0 L1701.8,1047.3 L1703.6,1085.7 L1707.9,1096.2 L1710.4,1096.1 L1712.8,1097.2 L1715.3,1098.1 L1717.7,1097.2 L1720.2,1097.9 L1722.6,1098.2 L1725.1,1096.9 L1727.5,1095.6 L1730.0,1094.7 L1732.4,1094.4 L1735.0,1097.0 L1737.6,1099.7 L1740.5,1098.9 L1743.4,1096.5 L1746.3,1095.3 L1749.8,1099.0 L1753.3,1101.4 L1756.1,1099.9 L1758.9,1097.8 L1761.7,1097.3 L1764.5,1096.4 L1767.3,1094.4 L1769.9,1092.2 L1772.5,1092.7 L1776.0,1103.2 L1779.5,1101.2 L1783.0,1099.7 L1785.6,1116.3 L1789.1,1108.4 L1792.6,1078.7 L1796.1,1111.9 L1798.7,1110.2 L1800.5,1023.0 L1803.1,1033.3 L1804.8,1099.7 L1806.6,1139.8 L1809.7,1142.6 L1812.7,1145.9 L1815.1,1146.3 L1817.6,1145.6 L1820.0,1142.9 L1822.5,1143.7 L1824.9,1141.6 L1827.3,1142.2 L1829.8,1140.1 L1832.2,1140.4 L1834.7,1139.0 L1837.1,1139.8 L1839.6,1142.6 L1842.0,1143.8 L1844.5,1146.3 L1846.9,1147.8 L1849.4,1148.6 L1852.2,1148.3 L1855.0,1147.6 L1857.7,1146.2 L1860.5,1143.8 L1863.3,1144.2 L1866.8,1146.7 L1870.3,1148.6 L1872.9,1145.7 L1875.5,1144.8 L1878.2,1145.5 L1880.8,1143.3 L1883.4,1138.3 L1886.0,1136.3 L1888.7,1139.4 L1891.3,1145.1 L1894.2,1144.7 L1897.1,1148.1 L1900.0,1147.7 L1902.4,1146.2 L1904.9,1145.1 L1907.3,1147.2 L1909.8,1144.4 L1912.2,1146.2 L1914.6,1145.1 L1917.1,1145.1 L1919.5,1145.0 L1922.0,1143.3 L1924.4,1142.5 L1926.9,1143.7 L1929.5,1141.5 L1932.0,1144.1 L1934.6,1143.5 L1937.1,1144.4 L1939.7,1142.7 L1942.2,1145.0 L1944.8,1145.8 L1947.3,1143.2 L1949.9,1144.3 L1952.4,1145.1 L1955.0,1141.8 L1957.6,1138.1 L1962.0,1119.8 L1966.3,1134.6 L1969.8,1155.5 L1974.2,1157.3 L1978.6,1143.3 L1982.9,1117.1 L1987.3,1134.6 L1990.8,1157.3 L1994.3,1161.7 L1996.7,1161.9 L1999.2,1159.1 L2001.6,1158.0 L2004.1,1157.4 L2006.5,1157.3 L2009.3,1157.3 L2012.1,1157.4 L2014.9,1155.9 L2017.7,1155.4 L2020.5,1155.5 L2024.0,1156.9 L2027.4,1159.0 L2030.0,1162.5 L2032.7,1166.6 L2035.3,1169.5 L2037.9,1174.8 L2040.6,1173.1 L2043.2,1171.3 L2046.7,1117.1 L2049.3,1051.2 L2051.9,985.3 L2055.4,1064.8 L2057.1,1178.2 L2060.6,1183.2 L2064.1,1185.2 L2067.1,1185.3 L2070.0,1185.9 L2072.5,1186.6 L2075.0,1184.6 L2077.5,1186.1 L2080.0,1186.2 L2082.5,1185.8 L2085.0,1185.2 L2087.5,1185.0 L2090.0,1184.9 L2092.5,1185.3 L2095.0,1186.1 L2097.5,1183.6 L2100.0,1183.4 L2102.5,1185.4 L2104.9,1185.9 L2107.4,1184.5 L2109.9,1184.2 L2112.4,1185.1 L2114.9,1183.3 L2117.4,1183.5 L2119.9,1183.2 L2122.4,1184.1 L2125.0,1184.5 L2127.6,1183.7 L2130.2,1183.6 L2132.9,1185.2 L2135.5,1186.1 L2138.1,1184.1 L2140.7,1185.5 L2143.3,1185.0 L2145.9,1185.6 L2148.6,1187.9 L2151.2,1187.9 L2153.8,1188.5 L2156.7,1186.6 L2159.6,1185.3 L2162.5,1185.0 L2165.1,1183.9 L2167.7,1185.8 L2170.3,1185.9 L2173.0,1185.7 L2175.6,1186.7 L2178.2,1187.6 L2181.7,1191.8 L2185.2,1197.2 L2188.2,1199.4 L2191.3,1199.8 L2194.8,1173.6 L2198.3,1136.1 L2201.3,1152.0 L2204.4,1203.3 L2207.9,1211.2 L2210.6,1209.7 L2213.4,1212.0 L2216.1,1210.0 L2218.9,1210.0 L2221.6,1209.2 L2224.4,1210.0 L2227.1,1208.6 L2229.6,1209.6 L2232.1,1208.7 L2234.6,1208.3 L2237.1,1209.0 L2239.6,1209.4 L2242.1,1207.9 L2244.6,1208.9 L2247.1,1209.6 L2249.6,1207.9 L2252.1,1207.1 L2254.6,1207.0 L2257.1,1208.5 L2259.6,1208.3 L2262.1,1207.7 L2264.5,1209.3 L2267.0,1209.2 L2269.4,1207.4 L2271.9,1207.4 L2274.3,1207.8 L2276.7,1207.7 L2279.2,1209.5 L2281.6,1210.2 L2284.1,1210.5 L2286.5,1209.4 L2290.9,1204.2 L2293.9,1206.9 L2297.0,1211.2 L2299.5,1212.3 L2302.0,1210.5 L2304.5,1210.8 L2307.0,1211.7 L2309.5,1209.6 L2312.0,1209.5 L2314.4,1211.8 L2316.9,1210.0 L2319.4,1210.2 L2321.9,1210.8 L2324.4,1211.1 L2326.9,1208.9 L2329.4,1209.8 L2331.9,1210.3 L2334.3,1210.2 L2336.7,1210.5 L2339.1,1209.8 L2341.6,1211.1 L2344.0,1212.4 L2346.4,1210.8 L2348.8,1211.4 L2351.2,1210.2 L2353.6,1210.8 L2356.1,1212.2 L2358.5,1210.6 L2360.9,1213.2 L2363.3,1212.1 L2366.5,1211.1 L2369.7,1206.1 L2372.9,1205.1 L2375.9,1211.8 L2379.0,1215.6 L2382.5,1213.4 L2386.0,1212.1 L2388.6,1214.9 L2391.2,1216.8 L2393.9,1217.3 L2396.5,1219.9 L2399.4,1220.5 L2402.3,1220.4 L2405.2,1219.9 L2409.6,1205.1 L2414.0,1222.5 L2418.3,1212.1 L2421.4,1219.6 L2424.4,1225.2 L2427.4,1222.7 L2430.5,1221.7 L2433.3,1225.3 L2436.2,1228.8 L2439.1,1230.7 L2441.9,1233.0 L2444.3,1232.1 L2446.8,1229.7 L2449.2,1229.9 L2451.7,1228.4 L2454.1,1227.8 L2456.7,1231.1 L2459.4,1233.6 L2462.0,1235.6" fill="none" stroke="#0000ff" stroke-width="7" stroke-linejoin="round" stroke-linecap="round"/>
<g stroke="#000" stroke-linecap="butt"><line x1="428" y1="20" x2="2466.2" y2="20" stroke-width="6"/><line x1="413" y1="1506" x2="2466.2" y2="1506" stroke-width="6"/><line x1="442.5" y1="17" x2="442.5" y2="1535" stroke-width="5.4"/><line x1="2463.5" y1="17" x2="2463.5" y2="1535" stroke-width="5.2"/><line x1="428.7" y1="1370.9" x2="442.5" y2="1370.9" stroke-width="5.4"/><line x1="413" y1="1235.8" x2="442.5" y2="1235.8" stroke-width="5.4"/><line x1="428.7" y1="1100.7" x2="442.5" y2="1100.7" stroke-width="5.4"/><line x1="413" y1="965.6" x2="442.5" y2="965.6" stroke-width="5.4"/><line x1="428.7" y1="830.5" x2="442.5" y2="830.5" stroke-width="5.4"/><line x1="413" y1="695.4" x2="442.5" y2="695.4" stroke-width="5.4"/><line x1="428.7" y1="560.3" x2="442.5" y2="560.3" stroke-width="5.4"/><line x1="413" y1="425.2" x2="442.5" y2="425.2" stroke-width="5.4"/><line x1="428.7" y1="290.1" x2="442.5" y2="290.1" stroke-width="5.4"/><line x1="413" y1="155.0" x2="442.5" y2="155.0" stroke-width="5.4"/><line x1="586.8" y1="1506" x2="586.8" y2="1520" stroke-width="5.4"/><line x1="731.2" y1="1506" x2="731.2" y2="1535" stroke-width="5.4"/><line x1="875.5" y1="1506" x2="875.5" y2="1520" stroke-width="5.4"/><line x1="1019.9" y1="1506" x2="1019.9" y2="1535" stroke-width="5.4"/><line x1="1164.2" y1="1506" x2="1164.2" y2="1520" stroke-width="5.4"/><line x1="1308.6" y1="1506" x2="1308.6" y2="1535" stroke-width="5.4"/><line x1="1452.9" y1="1506" x2="1452.9" y2="1520" stroke-width="5.4"/><line x1="1597.2" y1="1506" x2="1597.2" y2="1535" stroke-width="5.4"/><line x1="1741.6" y1="1506" x2="1741.6" y2="1520" stroke-width="5.4"/><line x1="1885.9" y1="1506" x2="1885.9" y2="1535" stroke-width="5.4"/><line x1="2030.3" y1="1506" x2="2030.3" y2="1520" stroke-width="5.4"/><line x1="2174.6" y1="1506" x2="2174.6" y2="1535" stroke-width="5.4"/><line x1="2319.0" y1="1506" x2="2319.0" y2="1520" stroke-width="5.4"/></g>
<g font-family='"Liberation Serif", "Times New Roman", serif' font-weight="bold" font-size="70.5" fill="#000"><text transform="translate(393.3,1527.6) scale(1,1.045)" text-anchor="end">-100,000</text><text transform="translate(393.3,1257.4) scale(1,1.045)" text-anchor="end">0</text><text transform="translate(393.3,987.2) scale(1,1.045)" text-anchor="end">100,000</text><text transform="translate(393.3,717.0) scale(1,1.045)" text-anchor="end">200,000</text><text transform="translate(393.3,446.8) scale(1,1.045)" text-anchor="end">300,000</text><text transform="translate(393.3,176.6) scale(1,1.045)" text-anchor="end">400,000</text><text transform="translate(442.5,1609.1) scale(1,1.045)" text-anchor="middle">1400</text><text transform="translate(731.2,1609.1) scale(1,1.045)" text-anchor="middle">1200</text><text transform="translate(1019.9,1609.1) scale(1,1.045)" text-anchor="middle">1000</text><text transform="translate(1308.6,1609.1) scale(1,1.045)" text-anchor="middle">800</text><text transform="translate(1597.2,1609.1) scale(1,1.045)" text-anchor="middle">600</text><text transform="translate(1885.9,1609.1) scale(1,1.045)" text-anchor="middle">400</text><text transform="translate(2174.6,1609.1) scale(1,1.045)" text-anchor="middle">200</text><text transform="translate(2463.3,1609.1) scale(1,1.045)" text-anchor="middle">0</text></g>
<text x="1126.5" y="1734.7" font-family='"Liberation Serif", "Times New Roman", serif' font-weight="bold" font-size="77" fill="#000">Bingding energy/eV</text>
<text transform="translate(79.7,991.3) rotate(-90)" font-family='"Liberation Serif", "Times New Roman", serif' font-weight="bold" font-size="77.8" fill="#000">Intensity(cps)</text>
<g><line x1="1362.5" y1="135.7" x2="1398.9" y2="174.3" stroke="#000" stroke-width="5.0"/><polygon points="1430.5,207.8 1388.8,181.1 1406.3,164.6" fill="#000"/><line x1="1991.7" y1="230.7" x2="1976.6" y2="276.2" stroke="#000" stroke-width="5.0"/><polygon points="1962.1,319.9 1965.8,270.6 1988.6,278.1" fill="#000"/><line x1="2345.4" y1="279.3" x2="2380.0" y2="327.3" stroke="#000" stroke-width="5.0"/><polygon points="2406.9,364.6 2369.1,332.7 2388.6,318.6" fill="#000"/><line x1="1622.5" y1="408.2" x2="1659.3" y2="447.8" stroke="#000" stroke-width="5.0"/><polygon points="1690.6,481.5 1649.1,454.5 1666.7,438.2" fill="#000"/><line x1="1920.1" y1="616.6" x2="1956.4" y2="655.8" stroke="#000" stroke-width="5.0"/><polygon points="1987.6,689.6 1946.2,662.5 1963.8,646.2" fill="#000"/><line x1="2230.0" y1="627.0" x2="2214.8" y2="672.6" stroke="#000" stroke-width="5.0"/><polygon points="2200.3,716.2 2204.1,666.9 2226.8,674.4" fill="#000"/><line x1="720.5" y1="920.6" x2="705.3" y2="965.9" stroke="#000" stroke-width="5.0"/><polygon points="690.7,1009.5 694.6,960.2 717.3,967.8" fill="#000"/><line x1="1087.5" y1="893.1" x2="1072.2" y2="938.7" stroke="#000" stroke-width="5.0"/><polygon points="1057.5,982.3 1061.4,933.0 1084.2,940.6" fill="#000"/><line x1="1498.8" y1="890.6" x2="1483.3" y2="937.1" stroke="#000" stroke-width="5.0"/><polygon points="1468.8,980.7 1472.6,931.4 1495.3,938.9" fill="#000"/><line x1="1823.2" y1="915.4" x2="1807.2" y2="961.7" stroke="#000" stroke-width="5.0"/><polygon points="1792.1,1005.2 1796.5,955.9 1819.1,963.8" fill="#000"/><line x1="2077.6" y1="885.9" x2="2062.0" y2="931.7" stroke="#000" stroke-width="5.0"/><polygon points="2047.1,975.2 2051.3,925.9 2074.0,933.7" fill="#000"/><line x1="2310.9" y1="1105.5" x2="2345.5" y2="1153.1" stroke="#000" stroke-width="5.0"/><polygon points="2372.5,1190.3 2334.6,1158.5 2354.0,1144.4" fill="#000"/></g>
<g font-family='"Liberation Serif", "Times New Roman", serif' font-size="57.0" fill="#000"><text x="1300.5" y="118.9">Fe2p</text><text x="1896.8" y="213.0">Ca2p</text><text x="2308.8" y="266.5">Ti3p</text><text x="1578.0" y="397.8">O1s</text><text x="1889.0" y="602.7">Zr3p</text><text x="2146.2" y="630.4">Zr3d</text><text x="623.5" y="884.4" textLength="134.4" lengthAdjust="spacing">CKL1</text><text x="987.7" y="878.5" textLength="138.0" lengthAdjust="spacing">OKL1</text><text x="1444.9" y="884.7">F1s</text><text x="1771.1" y="901.5">Ti2p</text><text x="2028.8" y="861.0">C1s</text><text x="2282.7" y="1088.8">Al2p</text></g>
<line x1="628.7" y1="1223.4" x2="800.2" y2="1223.4" stroke="#000" stroke-width="7.5" stroke-linecap="round"/><line x1="628.7" y1="1318.0" x2="800.2" y2="1318.0" stroke="#ff0000" stroke-width="7.5" stroke-linecap="round"/><line x1="628.7" y1="1412.0" x2="800.2" y2="1412.0" stroke="#0000ff" stroke-width="7.5" stroke-linecap="round"/><g font-family='"Liberation Serif", "Times New Roman", serif' font-size="77.5" fill="#000"><text x="818.5" y="1250.3">Galvanized steel</text><text x="816.2" y="1343.8">7075 Aluminum alloys</text><text x="819.3" y="1438.6">6061 Aluminum alloys</text></g>
</svg>
</body></html>
